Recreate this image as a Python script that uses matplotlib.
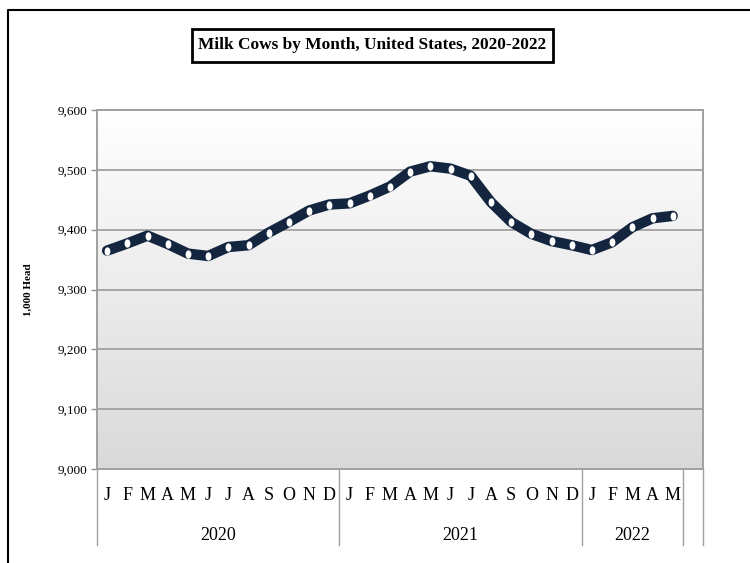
import matplotlib
matplotlib.use('Agg')
import matplotlib.pyplot as plt
import matplotlib.transforms as mtransforms
from matplotlib.lines import Line2D
from matplotlib.patches import Rectangle
from matplotlib.path import Path
from matplotlib.ticker import FuncFormatter
import numpy as np

# data (1,000 head), Jan 2020 - May 2022
months = ['J', 'F', 'M', 'A', 'M', 'J', 'J', 'A', 'S', 'O', 'N', 'D',
          'J', 'F', 'M', 'A', 'M', 'J', 'J', 'A', 'S', 'O', 'N', 'D',
          'J', 'F', 'M', 'A', 'M']
cows_2020 = [9365, 9377, 9390, 9376, 9360, 9356, 9371, 9374, 9395, 9413, 9432, 9442]
cows_2021 = [9444, 9457, 9472, 9497, 9506, 9502, 9490, 9446, 9413, 9393, 9381, 9374]
cows_2022 = [9366, 9379, 9404, 9419, 9423]
years = ['2020', '2021', '2022']
year_counts = [12, 12, 5]
n_slots = 30  # axis has one empty slot after May 2022

cows = cows_2020 + cows_2021 + cows_2022
x = np.arange(len(cows))

plt.rcParams['font.family'] = ['Liberation Serif', 'DejaVu Serif']

fig = plt.figure(figsize=(7.5, 5.63), dpi=100)
ax = fig.add_axes([97/750, 1 - 469/563, 606/750, 359/563])

# gradient background
grad = np.linspace(0, 1, 256).reshape(-1, 1)
ax.imshow(grad, extent=[0, 1, 0, 1], transform=ax.transAxes, aspect='auto',
          cmap=matplotlib.colors.LinearSegmentedColormap.from_list('bg', ['#d9d9d9', '#ffffff']),
          origin='lower', zorder=0)

ax.set_xlim(-0.5, n_slots - 0.5)
ax.set_ylim(9000, 9600)
ax.set_yticks(range(9000, 9601, 100))
ax.yaxis.set_major_formatter(FuncFormatter(lambda v, p: f'{int(v):,}'))
ax.grid(axis='y', color='#a6a6a6', lw=1.4, zorder=1)
ax.set_axisbelow(True)
ax.tick_params(axis='y', length=4, width=1, color='#909090', labelsize=9.5, pad=3)
ax.set_xticks([])
for s in ax.spines.values():
    s.set_color('#a0a0a0')
    s.set_linewidth(1.4)

# ellipse marker
ell = Path.unit_circle().transformed(mtransforms.Affine2D().scale(0.7, 1.0))
ax.plot(x, cows, color='#13253f', lw=7.5, solid_joinstyle='round', solid_capstyle='round',
        marker=ell, markersize=6, markerfacecolor='white', markeredgecolor='white',
        markeredgewidth=0, zorder=3)

# category axis labels
trans = mtransforms.blended_transform_factory(ax.transData, ax.transAxes)
for i, m in enumerate(months):
    ax.text(i, -26/359, m, transform=trans, ha='center', va='center', fontsize=13)
start = 0
bounds = [-0.5]
for yr, cnt in zip(years, year_counts):
    ax.text(start + (cnt - 1) / 2, -66/359, yr, transform=trans, ha='center', va='center', fontsize=13)
    start += cnt
    bounds.append(start - 0.5)
bounds.append(n_slots - 0.5)
for b in bounds:
    ax.plot([b, b], [0, -76/359], transform=trans, color='#a0a0a0', lw=1, clip_on=False)

ax.set_ylabel('1,000 Head', fontsize=8, fontweight='bold', labelpad=0)
ax.yaxis.set_label_coords(-64/606, 0.5)

# title with box
fig.add_artist(Rectangle((192/750, 1 - 62/563), 361/750, 33/563, transform=fig.transFigure,
                         facecolor='white', edgecolor='black', lw=2))
fig.text(372/750, 1 - 45/563, 'Milk Cows by Month, United States, 2020-2022',
         ha='center', va='center', fontsize=12.4, fontweight='bold')

# outer frame (left and top)
fig.add_artist(Line2D([8/750, 8/750, 1.0], [0, 1 - 9.5/563, 1 - 9.5/563],
                      transform=fig.transFigure, color='black', lw=1.5))

fig.savefig('out.png', dpi=100)
